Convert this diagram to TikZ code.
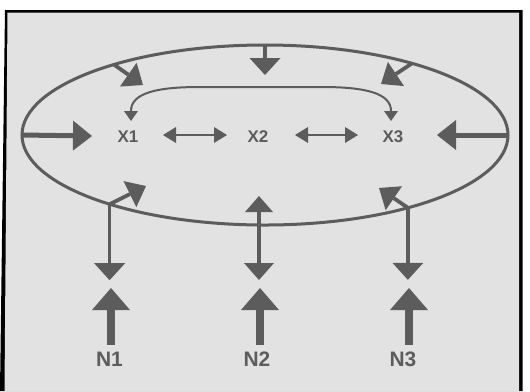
\documentclass[tikz,border=0pt]{standalone}
\usepackage{fontspec}
\setmainfont{Liberation Sans}
\usetikzlibrary{arrows.meta,shapes.geometric}
\definecolor{ink}{RGB}{92,92,92}
\definecolor{paper}{RGB}{226,226,226}
\begin{document}
\begin{tikzpicture}[x=1bp,y=-1bp,
  lbl/.style={text=ink,inner sep=0pt,font=\bfseries\fontsize{17}{17}\selectfont},
  nlbl/.style={text=ink,inner sep=0pt,font=\bfseries\fontsize{21}{21}\selectfont},
  fat/.style={draw=ink,line width=5bp,-{Triangle[length=19bp,width=30bp,line width=0pt]}},
  branch/.style={draw=ink,line width=3.5bp,-{Triangle[length=17bp,width=31bp,line width=0pt]}},
  slant/.style={draw=ink,line width=3.8bp,-{Triangle[length=18bp,width=29bp,line width=0pt]}},
  both/.style={draw=ink,line width=3.5bp,{Triangle[length=16bp,width=28bp,line width=0pt]}-{Triangle[length=17bp,width=30bp,line width=0pt]}},
  link/.style={draw=ink,line width=2bp,{Triangle[length=13bp,width=16bp,line width=0pt]}-{Triangle[length=13bp,width=16bp,line width=0pt]}},
  loopline/.style={draw=ink,line width=2bp,{Triangle[length=10bp,width=14bp,line width=0pt]}-{Triangle[length=10bp,width=14bp,line width=0pt]}},
  inputarrow/.style={draw=ink,line width=8bp,-{Triangle[length=22bp,width=38bp,line width=0pt]}},
  sysshape/.style={ellipse,draw=ink,line width=3bp,minimum width=486bp,minimum height=180bp,inner sep=0pt,outer sep=0pt}
]
\useasboundingbox (0,0) rectangle (530,391);
\fill[white] (0,0) rectangle (530,391);
\fill[black] (0,391) -- (5,10) -- (522.5,10) -- (522.5,391) -- cycle;
\fill[paper] (4.5,391) -- (7.5,12.5) -- (519,12.5) -- (519,391) -- cycle;

\node[sysshape] (sys) at (265,135) {};

% labels
\node[lbl] (x1) at (128,137) {X1};
\node[lbl] (x2) at (258,137) {X2};
\node[lbl] (x3) at (393,137) {X3};
\node[nlbl] (n1) at (109.5,359.5) {N1};
\node[nlbl] (n2) at (257,359.5) {N2};
\node[nlbl] (n3) at (403,359.5) {N3};

% coordinates
\coordinate (tl) at (143,85);
\coordinate (tr) at (381,84);
\coordinate (tm) at (265,75);
\coordinate (lt) at (92,136);
\coordinate (rt) at (437,135);
\coordinate (bl) at (146,186);
\coordinate (br) at (379,188);
\coordinate (mu) at (259,196);
\coordinate (md) at (259,280);
\coordinate (l12a) at (163,135);
\coordinate (l12b) at (227,135);
\coordinate (l23a) at (295,135);
\coordinate (l23b) at (358,135);
\coordinate (a1) at (131,121);
\coordinate (a3) at (391,121);
\coordinate (i1s) at (111,345);
\coordinate (i1t) at (111,288);
\coordinate (i2s) at (260,345);
\coordinate (i2t) at (260,288);
\coordinate (i3s) at (409,345);
\coordinate (i3t) at (409,288);

% arrows from the boundary into the system
\draw[slant] (sys.155) -- (tl);
\draw[slant] (sys.26) -- (tr);
\draw[branch] (sys.north) -- (tm);
\draw[fat] (sys.west) -- (lt);
\draw[fat] (sys.east) -- (rt);

% interactions inside
\draw[link] (l12a) -- (l12b);
\draw[link] (l23a) -- (l23b);
\draw[loopline] (a1) .. controls (131,92) and (160,87) .. (200,87) -- (322,87) .. controls (365,87) and (391,93) .. (a3);

% bottom branches
\draw[slant] (sys.204) -- (bl);
\draw[slant] (sys.333) -- (br);
\draw[branch] (sys.204) -- ++(0,76);
\draw[branch] (sys.333) -- ++(0,72);
\draw[both] (mu) -- (md);

% inputs
\draw[inputarrow] (i1s) -- (i1t);
\draw[inputarrow] (i2s) -- (i2t);
\draw[inputarrow] (i3s) -- (i3t);
\end{tikzpicture}
\end{document}
